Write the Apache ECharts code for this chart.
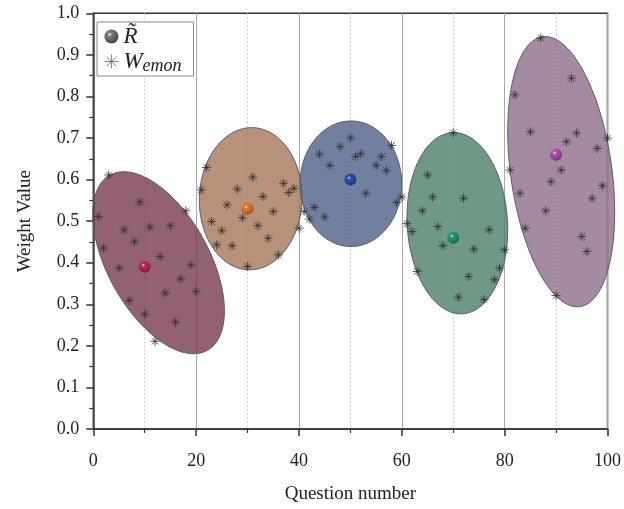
<!DOCTYPE html>
<html><head><meta charset="utf-8">
<script src="https://cdn.jsdelivr.net/npm/echarts@6/dist/echarts.min.js"></script>
<style>html,body{margin:0;padding:0;background:#fff}#c{width:624px;height:509px}</style>
</head><body><div id="c"></div>
<script>
// ---- data ----
const xTickValues = [0, 20, 40, 60, 80, 100];
const yTickValues = [0, 0.1, 0.2, 0.3, 0.4, 0.5, 0.6, 0.7, 0.8, 0.9, 1.0];

// W_emon : question number and weight value
const questionX = [
  1, 2, 3, 5, 6, 7, 8, 9, 10, 11, 12, 13, 14, 15, 16, 17, 18, 19, 20,
  21, 22, 23, 24, 25, 26, 27, 28, 29, 30, 31, 32, 33, 34, 35, 36, 37, 38, 39, 40,
  41, 42, 43, 44, 45, 46, 48, 50, 51, 52, 53, 55, 56, 57, 58, 59, 60,
  61, 62, 63, 64, 65, 66, 67, 68, 70, 71, 72, 73, 74, 76, 77, 78, 79, 80,
  81, 82, 83, 84, 85, 87, 88, 89, 90, 91, 92, 93, 94, 95, 96, 97, 98, 99, 100
];
const weightY = [
  0.511, 0.435, 0.611, 0.387, 0.479, 0.309, 0.450, 0.546, 0.276, 0.486, 0.211, 0.415, 0.327, 0.489, 0.257, 0.361, 0.525, 0.395, 0.331,
  0.575, 0.629, 0.499, 0.443, 0.477, 0.539, 0.441, 0.577, 0.508, 0.391, 0.606, 0.489, 0.559, 0.459, 0.523, 0.419, 0.591, 0.569, 0.579, 0.483,
  0.523, 0.505, 0.533, 0.661, 0.510, 0.634, 0.679, 0.700, 0.655, 0.662, 0.567, 0.634, 0.655, 0.622, 0.682, 0.545, 0.558,
  0.494, 0.475, 0.379, 0.525, 0.611, 0.558, 0.487, 0.441, 0.713, 0.317, 0.555, 0.367, 0.433, 0.311, 0.479, 0.359, 0.387, 0.431,
  0.623, 0.804, 0.567, 0.483, 0.715, 0.941, 0.525, 0.595, 0.321, 0.623, 0.691, 0.844, 0.712, 0.463, 0.427, 0.555, 0.675, 0.585, 0.700
];

// R~ : group means
const meanX = [10, 30, 50, 70, 90];
const meanY = [0.39, 0.53, 0.60, 0.46, 0.66];

// confidence ellipses (centre, half extents, correlation) in data units
const ellipseCX = [12.7, 30.6, 50.1, 70.8, 91.0];
const ellipseCY = [0.400, 0.554, 0.590, 0.495, 0.619];
const ellipseSX = [12.8, 9.98, 9.88, 9.79, 10.4];
const ellipseSY = [0.219, 0.171, 0.151, 0.218, 0.325];
const ellipseRho = [-0.53, 0.02, 0.0, -0.07, -0.30];

// ---- styles ----
const ellipseFill = ['rgba(116,54,74,0.78)', 'rgba(166,118,89,0.8)', 'rgba(79,96,136,0.8)', 'rgba(75,126,104,0.8)', 'rgba(139,105,136,0.78)'];
const sphereColor = ['#d01a62', '#f57a14', '#1a48c0', '#10a272', '#c445c4'];
const sphereDark = ['#7a0530', '#a04000', '#08206a', '#05583a', '#6e1a6e'];
const FONT = 'Liberation Serif';

function sphere(c, d) {
  return new echarts.graphic.RadialGradient(0.38, 0.35, 0.7, [
    {offset: 0, color: '#ffffff'},
    {offset: 0.2, color: c},
    {offset: 1, color: d}
  ]);
}
const starPath = 'path://M0,5L10,5M5,0L5,10M1.5,1.5L8.5,8.5M8.5,1.5L1.5,8.5';

const ellipseData = ellipseCX.map((cx, i) => [cx, ellipseCY[i], ellipseSX[i], ellipseSY[i], ellipseRho[i]]);
const starData = questionX.map((x, i) => [x, weightY[i]]);
const meanData = meanX.map((x, i) => ({value: [x, meanY[i]], itemStyle: {color: sphere(sphereColor[i], sphereDark[i])}}));

const chart = echarts.init(document.getElementById('c'), null, {renderer: 'canvas'});
chart.setOption({
  animation: false,
  backgroundColor: '#fff',
  grid: {left: 93.3, right: 14.7, top: 13.3, bottom: 79.7, show: true, borderColor: '#333', borderWidth: 1.5, backgroundColor: 'transparent'},
  legend: {
    left: 97, top: 22, orient: 'vertical',
    backgroundColor: '#fff', borderColor: '#888', borderWidth: 1, borderRadius: 0,
    padding: [3, 12, 1, 7], itemGap: 2, itemWidth: 14, itemHeight: 14,
    data: [
      {name: 'R', icon: 'circle', itemStyle: {color: sphere('#606060', '#111')}},
      {name: 'W', icon: starPath, itemStyle: {color: 'rgba(0,0,0,0)', borderColor: '#666', borderWidth: 0.8}}
    ],
    formatter: n => n === 'R' ? '{r|R\u0303}' : '{w|W}{s|emon}',
    textStyle: {
      fontFamily: FONT, color: '#222',
      rich: {
        r: {fontFamily: FONT, fontStyle: 'italic', fontSize: 23, color: '#222', lineHeight: 22},
        w: {fontFamily: FONT, fontStyle: 'italic', fontSize: 23, color: '#222', lineHeight: 22},
        s: {fontFamily: FONT, fontStyle: 'italic', fontSize: 18, color: '#222', padding: [9, 0, 0, 0]}
      }
    }
  },
  xAxis: {
    type: 'value', min: 0, max: 100, interval: 20,
    name: 'Question number', nameLocation: 'middle', nameGap: 56,
    nameTextStyle: {fontFamily: FONT, fontSize: 19, color: '#222'},
    axisLine: {show: true, onZero: false, lineStyle: {color: '#333', width: 1.5}},
    axisTick: {show: true, inside: false, length: 7, lineStyle: {color: '#333', width: 1.5}},
    minorTick: {show: true, splitNumber: 2, length: 4, lineStyle: {color: '#333', width: 1.2}},
    axisLabel: {fontFamily: FONT, fontSize: 18, color: '#222', margin: 23,
      customValues: xTickValues, formatter: v => String(v)},
    splitLine: {show: true, lineStyle: {color: '#a8a8a8', width: 1}},
    minorSplitLine: {show: true, lineStyle: {color: '#cfcfcf', width: 1, type: [2, 2]}}
  },
  yAxis: {
    type: 'value', min: 0, max: 1, interval: 0.1,
    name: 'Weight Value', nameLocation: 'middle', nameGap: 59,
    nameTextStyle: {fontFamily: FONT, fontSize: 19, color: '#222'},
    axisLine: {show: true, onZero: false, lineStyle: {color: '#333', width: 1.5}},
    axisTick: {show: true, inside: false, length: 7, lineStyle: {color: '#333', width: 1.5}},
    minorTick: {show: true, splitNumber: 2, length: 4, lineStyle: {color: '#333', width: 1.2}},
    axisLabel: {fontFamily: FONT, fontSize: 18, color: '#222', margin: 14,
      customValues: yTickValues, formatter: v => Number(v).toFixed(1)},
    splitLine: {show: false}
  },
  series: [
    {
      type: 'custom', name: 'ellipses', data: ellipseData, clip: false, z: 2, silent: true,
      encode: {x: 0, y: 1},
      renderItem: (params, api) => {
        const i = params.dataIndex;
        const cx = api.value(0), cy = api.value(1), sx = api.value(2), sy = api.value(3), r = api.value(4);
        const q = Math.sqrt(1 - r * r);
        const pts = [];
        for (let k = 0; k < 180; k++) {
          const t = 2 * Math.PI * k / 180;
          pts.push(api.coord([cx + sx * Math.cos(t), cy + sy * (r * Math.cos(t) + q * Math.sin(t))]));
        }
        return {type: 'polygon', shape: {points: pts}, style: {fill: ellipseFill[i], stroke: '#5c5c5c', lineWidth: 1}};
      }
    },
    {
      type: 'scatter', name: 'W', data: starData, symbol: starPath, symbolSize: 9, z: 3,
      itemStyle: {color: 'rgba(0,0,0,0)', borderColor: '#2e2e2e', borderWidth: 0.8, opacity: 1}
    },
    {
      type: 'scatter', name: 'R', data: meanData, symbol: 'circle', symbolSize: 12, z: 4,
      itemStyle: {color: sphere('#606060', '#111')}
    }
  ]
});
</script>
</body></html>
